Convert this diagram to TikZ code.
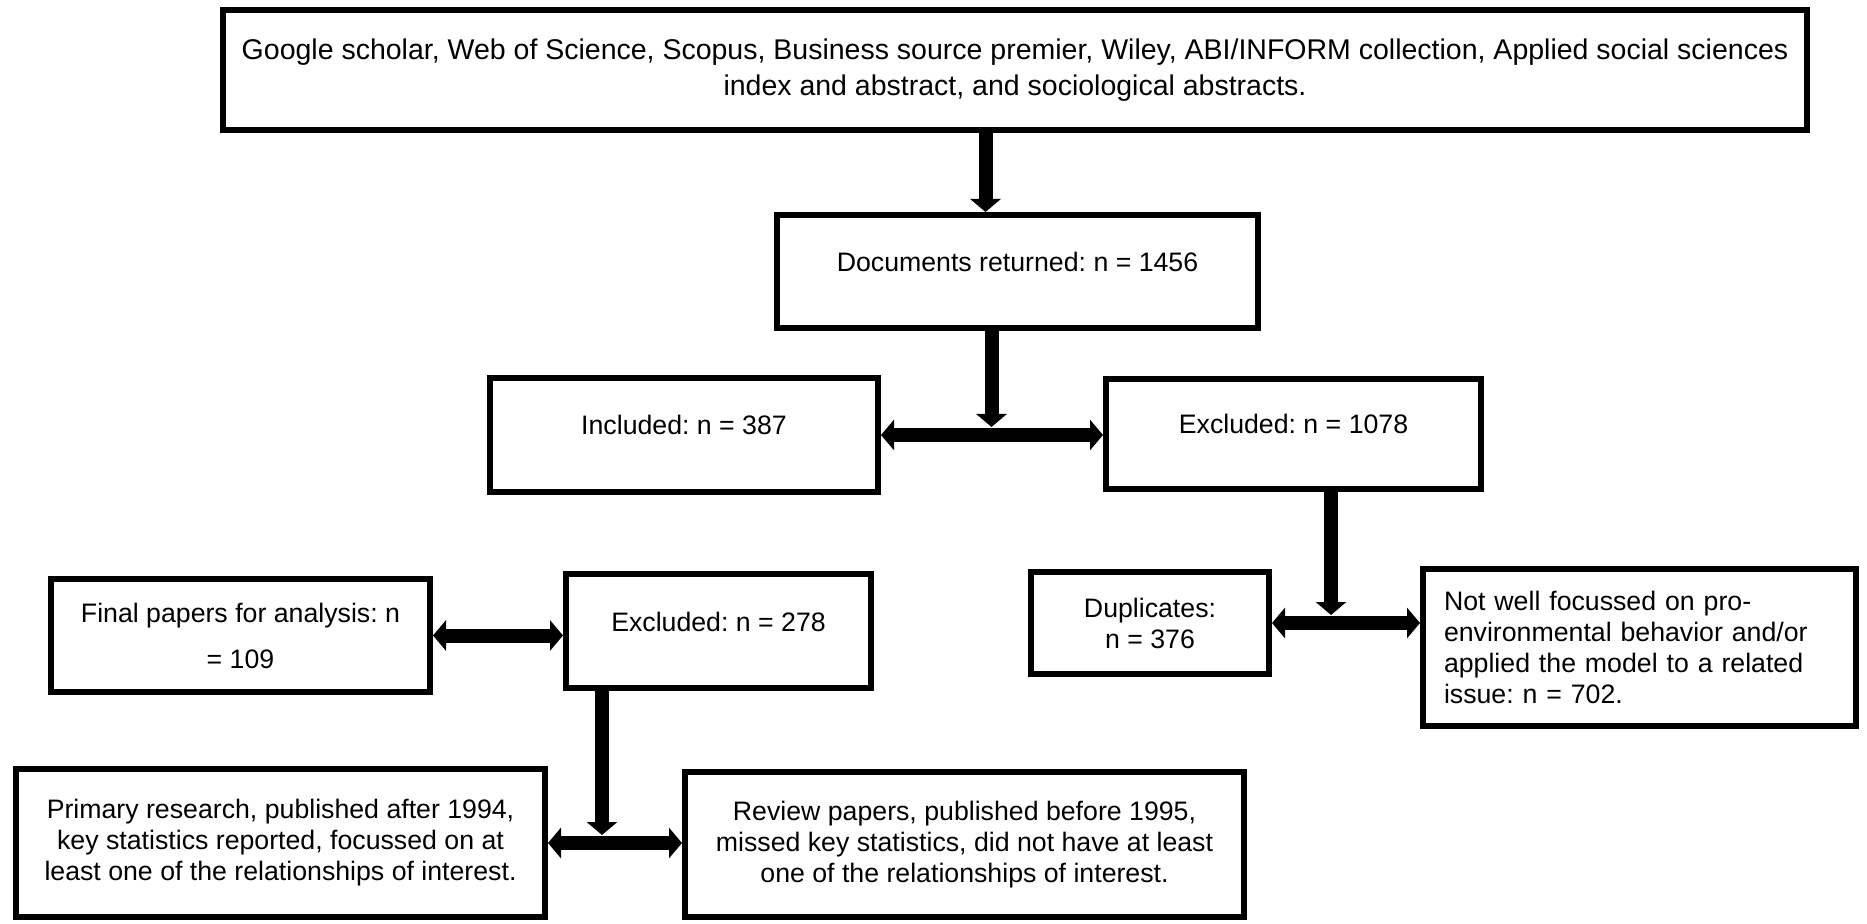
\documentclass[tikz,border=0pt]{standalone}
\usepackage{fontspec}
\setmainfont{Liberation Sans}
\usepackage{tikz}
\usetikzlibrary{arrows.meta,positioning,calc}
\frenchspacing

\begin{document}
\begin{tikzpicture}[x=0.5pt,y=-0.5pt,
            box/.style={draw,line width=3pt,inner sep=0pt,align=center,font=\fontsize{13.35}{15.5}\selectfont},
            oneline/.style={box,text height=10pt,text depth=10pt},
            flow/.style={draw,line width=7pt,-{Triangle[length=6.5pt,width=15pt]}},
            both/.style={flow,{Triangle[length=6.5pt,width=15pt]}-{Triangle[length=6.5pt,width=15pt]}}
          ]
          \useasboundingbox (0,0) rectangle (1867,924);

          %databases
          \node[box,font=\fontsize{14.25}{16.5}\selectfont,minimum width=792pt,minimum height=60pt] (src) at (1015,70)
            {Google scholar, Web of Science, Scopus, Business source premier, Wiley, ABI/INFORM collection, Applied social sciences\\[1.5pt]index and abstract, and sociological abstracts.};
          \node[oneline,minimum width=240.5pt,minimum height=56.5pt] (docs) at (1017.5,271.5) {Documents returned: n = 1456};

          %first screening
          \node[oneline,minimum width=194pt,minimum height=57pt] (incl) at (684,435) {Included: n = 387};
          \node[oneline,minimum width=187.5pt,minimum height=55pt] (excl) at (1293.5,434) {Excluded: n = 1078};
          \node[box,minimum width=119pt,minimum height=51pt] (dup) at (1150,623) {Duplicates:\\n = 376};
          \node[box,align=left,text width=195.5pt,minimum width=216.5pt,minimum height=78.5pt] (offtopic) at (1639.5,647.5)
            {Not well focussed on pro-\\environmental behavior and/or\\applied the model to a related\\issue: n = 702.};

          %second screening
          \node[box,minimum width=189.5pt,minimum height=56.5pt] (final) at (240.5,635.5) {Final papers for analysis: n\\[7.5pt]= 109};
          \node[oneline,minimum width=152.5pt,minimum height=57pt] (excl2) at (718.5,631) {Excluded: n = 278};
          \node[box,minimum width=264.5pt,minimum height=74pt] (prim) at (280.5,843)
            {Primary research, published after 1994,\\key statistics reported, focussed on at\\least one of the relationships of interest.};
          \node[box,minimum width=279.5pt,minimum height=72.5pt] (rev) at (964.5,844.5)
            {Review papers, published before 1995,\\missed key statistics, did not have at least\\one of the relationships of interest.};

          %split points
          \coordinate (s1) at ($(docs.south |- incl.east)+(-26,0)$);
          \coordinate (s2) at ($(excl.south |- dup.east)+(37.5,0)$);
          \coordinate (s3) at ($(excl2.south |- prim.east)+(-116.5,0)$);

          %arrows
          \path
          ($(docs.north |- src.south)+(-32,0)$) edge[flow] ($(docs.north)+(-32,0)$)
          (docs.south -| s1) edge[flow] ($(s1)+(0,-8)$)
          (s1) edge[flow] (incl.east)
          (s1) edge[flow] (s1 -| excl.west)
          (excl.south -| s2) edge[flow] ($(s2)+(0,-8)$)
          (s2) edge[flow] (dup.east)
          (s2) edge[flow] (s2 -| offtopic.west)
          (final.east) edge[both] (final.east -| excl2.west)
          (excl2.south -| s3) edge[flow] ($(s3)+(0,-8)$)
          (s3) edge[flow] (prim.east)
          (s3) edge[flow] (s3 -| rev.west)
          ;

      \end{tikzpicture}
\end{document}
